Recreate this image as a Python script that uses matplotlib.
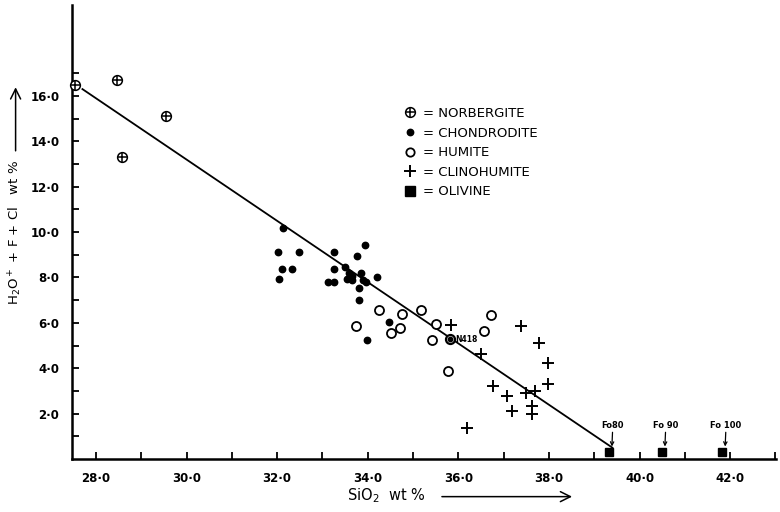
import matplotlib
matplotlib.use("Agg")
import matplotlib.pyplot as plt

# --- data ---
norb_x = [27.54, 28.46, 29.55, 28.57]
norb_y = [16.50, 16.72, 15.13, 13.32]

chon_x = [32.13, 32.01, 32.49, 32.11, 32.33, 32.04, 33.26, 33.94, 33.76, 33.26,
          33.50, 33.59, 33.66, 33.55, 33.86, 33.66, 33.89, 33.95, 34.21, 33.13,
          33.26, 33.81, 33.81, 34.47, 33.98]
chon_y = [10.18, 9.12, 9.12, 8.38, 8.38, 7.94, 9.12, 9.41, 8.93, 8.38,
          8.45, 8.19, 8.07, 7.93, 8.19, 7.90, 7.90, 7.78, 8.01, 7.79,
          7.79, 7.53, 7.01, 6.03, 5.26]

hum_x = [33.75, 34.25, 34.75, 34.51, 34.72, 35.17, 35.50, 35.42, 35.78, 36.57, 36.71]
hum_y = [5.84, 6.57, 6.40, 5.54, 5.76, 6.57, 5.95, 5.25, 3.88, 5.65, 6.35]

n418_x = [35.81]
n418_y = [5.28]

clino_x = [35.84, 36.51, 36.77, 37.08, 37.19, 36.18, 37.38, 37.79, 37.98, 37.98,
           37.49, 37.69, 37.63, 37.63]
clino_y = [5.91, 4.63, 3.20, 2.78, 2.10, 1.37, 5.84, 5.13, 4.22, 3.31,
           2.90, 3.01, 2.34, 1.97]

oliv_x = [39.32, 40.49, 41.82]
oliv_y = [0.30, 0.30, 0.30]
oliv_labels = ["Fo80", "Fo 90", "Fo 100"]

line_x = [27.7, 39.4]
line_y = [16.3, 0.5]

x_ticks = list(range(28, 44))
x_labels = [f"{t}·0" if t % 2 == 0 else "" for t in x_ticks]
y_ticks = list(range(1, 18))
y_labels = [f"{t}·0" if t % 2 == 0 else "" for t in y_ticks]

fig = plt.figure(figsize=(7.8, 5.12), dpi=100)
ax = fig.add_axes([0.0923, 0.1035, 0.903, 0.8865])

ax.plot(line_x, line_y, c='k', lw=1.3, zorder=2)

# norbergite: circle with a cross inside
ax.plot(norb_x, norb_y, ls='none', marker='o', ms=7, mfc='white', mec='k', mew=1.1, zorder=3, clip_on=False)
ax.plot(norb_x, norb_y, ls='none', marker='+', ms=7, mec='k', mew=1.1, zorder=4, clip_on=False)
ax.plot(chon_x, chon_y, ls='none', marker='o', ms=4.6, mfc='k', mec='k', zorder=3)
ax.plot(hum_x, hum_y, ls='none', marker='o', ms=6.5, mfc='white', mec='k', mew=1.3, zorder=3)
ax.plot(n418_x, n418_y, ls='none', marker='o', ms=6.5, mfc='white', mec='k', mew=1.6, zorder=3)
ax.plot(n418_x, n418_y, ls='none', marker='o', ms=3.2, mfc='k', mec='k', zorder=4)
ax.text(n418_x[0] + 0.12, n418_y[0], "N418", fontsize=5.5, fontweight='bold', va='center', ha='left')
ax.plot(clino_x, clino_y, ls='none', marker='+', ms=8.5, mec='k', mew=1.4, zorder=3)
ax.plot(oliv_x, oliv_y, ls='none', marker='s', ms=6, mfc='k', mec='k', zorder=5, clip_on=False)

for xo, yo, lab in zip(oliv_x, oliv_y, oliv_labels):
    ax.annotate(lab, xy=(xo + 0.07, yo + 0.25), xytext=(xo + 0.09, yo + 1.0),
                fontsize=6, fontweight='bold', ha='center', va='bottom',
                arrowprops=dict(arrowstyle='->', lw=0.9, color='k', shrinkA=0, shrinkB=0))

ax.set_xlim(27.47, 43.02)
ax.set_ylim(0, 20.0)
ax.set_xticks(x_ticks)
ax.set_xticklabels(x_labels)
ax.set_yticks(y_ticks)
ax.set_yticklabels(y_labels)
ax.tick_params(axis='both', direction='in', length=5, width=1.3, labelsize=8.5)
ax.tick_params(axis='x', pad=9)
ax.tick_params(axis='y', pad=9)
for lab in ax.get_xticklabels() + ax.get_yticklabels():
    lab.set_fontweight('bold')

for side in ['top', 'right']:
    ax.spines[side].set_visible(False)
for side in ['left', 'bottom']:
    ax.spines[side].set_linewidth(1.8)

# legend built from proxy handles
h_norb = (ax.plot([], [], ls='none', marker='o', ms=7, mfc='white', mec='k', mew=1.1)[0],
          ax.plot([], [], ls='none', marker='+', ms=7, mec='k', mew=1.1)[0])
h_chon = ax.plot([], [], ls='none', marker='o', ms=4.6, mfc='k', mec='k')[0]
h_hum = ax.plot([], [], ls='none', marker='o', ms=6, mfc='white', mec='k', mew=1.3)[0]
h_cl = ax.plot([], [], ls='none', marker='+', ms=8.5, mec='k', mew=1.4)[0]
h_ol = ax.plot([], [], ls='none', marker='s', ms=7, mfc='k', mec='k')[0]
ax.legend([h_norb, h_chon, h_hum, h_cl, h_ol],
          ["= NORBERGITE", "= CHONDRODITE", "= HUMITE", "= CLINOHUMITE", "= OLIVINE"],
          loc='upper left', bbox_to_anchor=(0.509, 0.804), bbox_transform=fig.transFigure,
          frameon=False, fontsize=9.5, handlelength=1.0, handletextpad=0.45,
          labelspacing=0.5, borderpad=0)

# axis titles with arrows
fig.text(0.495, 0.032, r"SiO$_2$  wt %", fontsize=10.5, ha='center', va='center')
fig.text(0.020, 0.545, r"H$_2$O$^+$ + F + Cl   wt %", fontsize=9.5, rotation=90,
         ha='center', va='center')
fig.add_artist(matplotlib.patches.FancyArrowPatch((0.563, 0.030), (0.737, 0.030),
               transform=fig.transFigure, arrowstyle='->', mutation_scale=18, lw=1.1, color='k'))
fig.add_artist(matplotlib.patches.FancyArrowPatch((0.020, 0.700), (0.020, 0.835),
               transform=fig.transFigure, arrowstyle='->', mutation_scale=18, lw=1.1, color='k'))

fig.savefig("out.png", dpi=100)
